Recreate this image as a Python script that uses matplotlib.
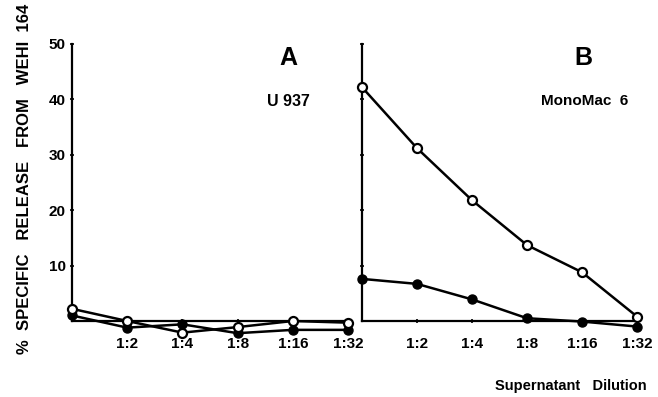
import matplotlib.pyplot as plt

# dilution steps (0 = undiluted supernatant)
steps = [0, 1, 2, 3, 4, 5]
dil_labels = ["1:2", "1:4", "1:8", "1:16", "1:32"]
y_ticks = [10, 20, 30, 40, 50]

# panel A : U 937
u937_open = [2.2, 0.0, -2.1, -1.1, 0.0, -0.3]
u937_filled = [1.0, -1.2, -0.6, -2.2, -1.6, -1.6]

# panel B : MonoMac 6
mm6_open = [42.2, 31.2, 21.8, 13.7, 8.8, 0.8]
mm6_filled = [7.6, 6.7, 3.9, 0.5, -0.1, -1.0]

FONT = ["Liberation Sans Narrow", "Liberation Sans", "DejaVu Sans"]
plt.rcParams["font.family"] = FONT
plt.rcParams["font.weight"] = "bold"

fig = plt.figure(figsize=(6.58, 3.97), dpi=100)
W, H = 658, 397
y0_px, y50_px = 321, 44
ppu = (y0_px - y50_px) / 50.0
ylo, yhi = -3.0, 50.0
bottom = (H - (y0_px + (-ylo) * ppu)) / H
height = (yhi - ylo) * ppu / H

axA = fig.add_axes([72 / W, bottom, 5.15 * 55.2 / W, height])
axB = fig.add_axes([362 / W, bottom, 5.15 * 55.0 / W, height])


def style(ax, show_ylabels):
    ax.set_xlim(0, 5.15)
    ax.set_ylim(ylo, yhi)
    for s in ["top", "right"]:
        ax.spines[s].set_visible(False)
    ax.spines["bottom"].set_position(("data", 0))
    ax.spines["bottom"].set_bounds(0, 5)
    ax.spines["left"].set_bounds(0, 50)
    ax.spines["bottom"].set_linewidth(1.6)
    ax.spines["left"].set_linewidth(1.6)
    ax.set_xticks(steps[1:])
    ax.set_xticklabels(dil_labels, fontsize=11, fontweight="bold")
    ax.set_yticks(y_ticks)
    if show_ylabels:
        ax.set_yticklabels([str(v) for v in y_ticks], fontsize=11, fontweight="bold")
    else:
        ax.set_yticklabels([])
    ax.tick_params(axis="x", direction="inout", length=3, width=1.2, pad=10)
    ax.tick_params(axis="y", direction="inout", length=3, width=1.2, pad=3)


def draw(ax, opn, fil):
    ax.plot(steps, fil, color="black", lw=1.8, marker="o", ms=6.5,
            mfc="black", mec="black", clip_on=False, zorder=3)
    ax.plot(steps, opn, color="black", lw=1.8, marker="o", ms=6.5,
            mfc="white", mec="black", mew=1.6, clip_on=False, zorder=4)


style(axA, True)
style(axB, False)
draw(axA, u937_open, u937_filled)
draw(axB, mm6_open, mm6_filled)

fig.text(288 / W, 1 - 58 / H, "A", fontsize=18, fontweight="bold", ha="center", va="center")
fig.text(583 / W, 1 - 58 / H, "B", fontsize=18, fontweight="bold", ha="center", va="center")
fig.text(288 / W, 1 - 101 / H, "U 937", fontsize=11.5, fontweight="bold", ha="center", va="center")
fig.text(585 / W, 1 - 101 / H, "MonoMac  6", fontsize=11, fontweight="bold", ha="center", va="center")
fig.text(647 / W, 1 - 386 / H, "Supernatant   Dilution", fontsize=10.5, fontweight="bold",
         ha="right", va="center")
fig.text(25 / W, 1 - 179 / H, "%  SPECIFIC   RELEASE   FROM   WEHI  164",
         rotation=90, fontsize=12, fontweight="bold", ha="center", va="center")

fig.savefig("out.png", dpi=100)
